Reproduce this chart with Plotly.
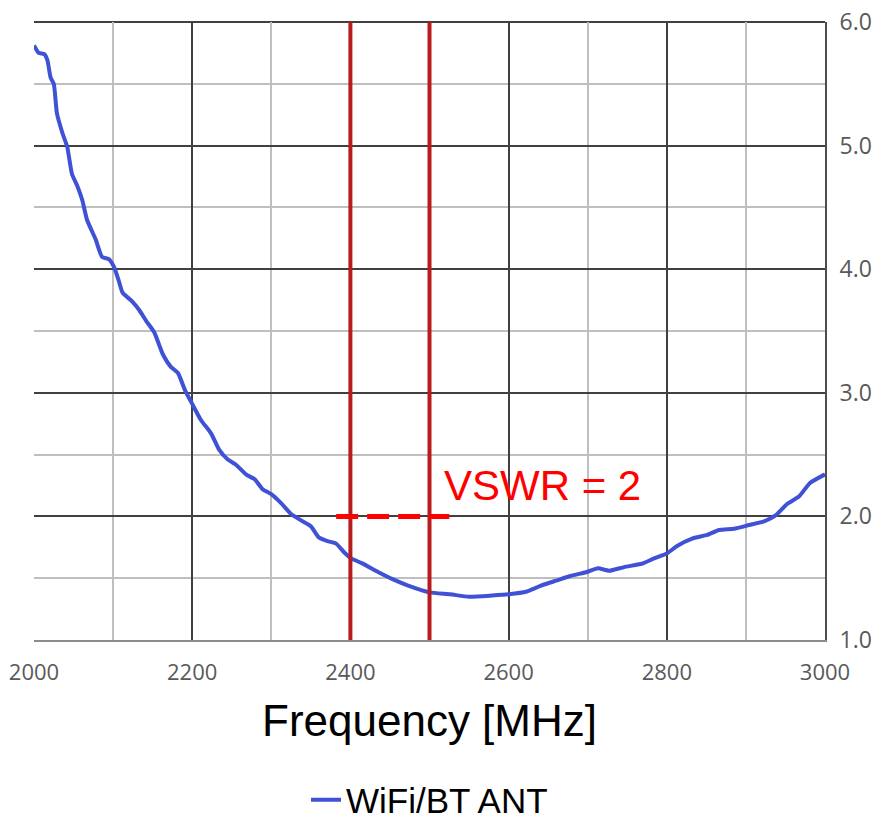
import plotly.graph_objects as go

freq = [2000, 2006, 2013, 2017, 2021, 2025, 2029, 2036, 2042, 2048, 2055, 2061, 2067,
        2078, 2086, 2095, 2101, 2107, 2112, 2124, 2133, 2142, 2152, 2163, 2173, 2182,
        2191, 2200, 2211, 2224, 2234, 2245, 2255, 2268, 2279, 2289, 2300, 2312, 2325,
        2337, 2350, 2360, 2371, 2382, 2392, 2401, 2415, 2435, 2454, 2473, 2500, 2526,
        2550, 2579, 2600, 2622, 2641, 2660, 2679, 2699, 2713, 2727, 2746, 2770, 2784,
        2800, 2813, 2832, 2851, 2866, 2885, 2904, 2923, 2938, 2952, 2967, 2981, 3000]
vswr = [5.81, 5.75, 5.74, 5.69, 5.55, 5.50, 5.26, 5.10, 4.99, 4.77, 4.67, 4.56, 4.40,
        4.24, 4.10, 4.08, 4.02, 3.91, 3.81, 3.74, 3.67, 3.58, 3.49, 3.31, 3.21, 3.16,
        3.02, 2.91, 2.78, 2.67, 2.54, 2.46, 2.42, 2.34, 2.30, 2.22, 2.18, 2.11, 2.02,
        1.97, 1.92, 1.83, 1.80, 1.78, 1.71, 1.66, 1.62, 1.55, 1.49, 1.44, 1.385, 1.37,
        1.35, 1.36, 1.37, 1.39, 1.44, 1.48, 1.52, 1.55, 1.58, 1.56, 1.59, 1.62, 1.66,
        1.70, 1.76, 1.82, 1.85, 1.89, 1.90, 1.93, 1.96, 2.01, 2.10, 2.16, 2.27, 2.34]

band_edges = [2400, 2500]
vswr_limit = 2
limit_span = [2382, 2525]
x_ticks = [2000, 2200, 2400, 2600, 2800, 3000]
y_ticks = [1.0, 2.0, 3.0, 4.0, 5.0, 6.0]
series_name = "WiFi/BT ANT"
x_title = "Frequency [MHz]"
limit_label = "VSWR = 2"

TICKFONT = "Open Sans, Noto Sans, Liberation Sans"
TEXTFONT = "Liberation Sans, Arial"

fig = go.Figure()

fig.add_trace(go.Scatter(
    x=freq, y=vswr, mode="lines", name=series_name,
    line=dict(color="#3F51D5", width=4, shape="spline", smoothing=0.5), yaxis="y"))

# top border of the plot area (dark, like the major grid)
fig.add_shape(type="line", xref="paper", yref="paper", x0=0, x1=1, y0=1, y1=1,
              line=dict(color="#404040", width=2), layer="below")

for f in band_edges:
    fig.add_shape(type="line", xref="x", yref="y", x0=f, x1=f, y0=1, y1=6,
                  line=dict(color="#B81C1C", width=4), layer="above")

fig.add_shape(type="line", xref="x", yref="y", x0=limit_span[0], x1=limit_span[1],
              y0=vswr_limit, y1=vswr_limit,
              line=dict(color="#FF0000", width=5, dash="22px,9px"), layer="above")

fig.add_annotation(x=2516, y=2.25, xref="x", yref="y", text=limit_label,
                   showarrow=False, xanchor="left", yanchor="middle",
                   font=dict(family=TEXTFONT, size=42, color="#FF0000"))

fig.update_layout(
    width=891, height=821,
    margin=dict(l=26, r=74, t=14, b=189),
    paper_bgcolor="white", plot_bgcolor="white",
    showlegend=True,
    legend=dict(orientation="h", x=0.5, xanchor="center",
                yref="container", y=0.0353, yanchor="middle",
                font=dict(family=TEXTFONT, size=35, color="#000000")),
    xaxis=dict(range=[2000, 3000], tickvals=x_ticks, ticktext=[str(t) for t in x_ticks],
               automargin=False,
               showgrid=True, gridcolor="#404040", gridwidth=2,
               minor=dict(dtick=100, showgrid=True, gridcolor="#BFBFBF", gridwidth=2, ticks=""),
               showline=True, linecolor="#8C8C8C", linewidth=2,
               ticks="outside", ticklen=12, tickcolor="rgba(0,0,0,0)",
               tickfont=dict(family=TICKFONT, size=22, color="#595959"),
               zeroline=False,
               title=dict(text=x_title, standoff=20,
                          font=dict(family=TEXTFONT, size=44, color="#000000"))),
    yaxis=dict(range=[1, 6], side="right", tickvals=y_ticks, tickformat=".1f",
               automargin=False, ticklabeloverflow="allow",
               showgrid=True, gridcolor="#404040", gridwidth=2,
               minor=dict(dtick=0.5, showgrid=True, gridcolor="#BFBFBF", gridwidth=2, ticks=""),
               showline=True, linecolor="#4D4D4D", linewidth=2,
               ticks="outside", ticklen=8, tickcolor="rgba(0,0,0,0)",
               zeroline=False,
               tickfont=dict(family=TICKFONT, size=23, color="#595959")),
    yaxis2=dict(range=[1, 6], overlaying="y", side="left", tickvals=y_ticks,
                automargin=False,
                showticklabels=False, showgrid=False, zeroline=False,
                showline=True, linecolor="#8C8C8C", linewidth=2,
                ticks="outside", ticklen=8, tickcolor="#8C8C8C"),
)

fig.write_html("out.html")
